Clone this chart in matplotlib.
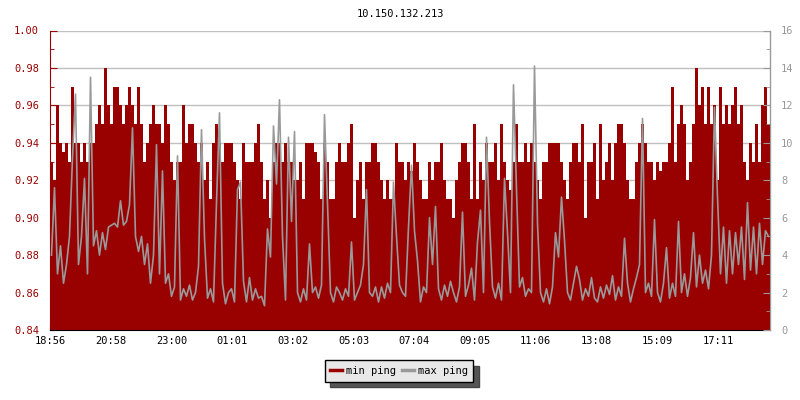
import numpy as np
import matplotlib
matplotlib.use("Agg")
import matplotlib.pyplot as plt
from matplotlib.lines import Line2D

title = "10.150.132.213"
tick_labels = ["18:56", "20:58", "23:00", "01:01", "03:02", "05:03",
               "07:04", "09:05", "11:06", "13:08", "15:09", "17:11"]
step_minutes = 6  # one sample every 6 minutes, 24 h shown

min_ping = [
    # 18:56 - 22:56
    0.93, 0.92, 0.96, 0.94, 0.935, 0.94, 0.93, 0.97, 0.94, 0.94,
    0.93, 0.94, 0.93, 0.94, 0.94, 0.95, 0.96, 0.95, 0.98, 0.96,
    0.95, 0.97, 0.97, 0.96, 0.95, 0.96, 0.97, 0.96, 0.95, 0.97,
    0.95, 0.93, 0.94, 0.95, 0.96, 0.95, 0.95, 0.94, 0.96, 0.95,
    # 22:56 - 02:56
    0.93, 0.92, 0.93, 0.93, 0.96, 0.94, 0.95, 0.95, 0.94, 0.93,
    0.94, 0.92, 0.93, 0.91, 0.94, 0.95, 0.94, 0.93, 0.94, 0.94,
    0.94, 0.93, 0.92, 0.91, 0.94, 0.93, 0.93, 0.93, 0.94, 0.95,
    0.93, 0.91, 0.92, 0.90, 0.93, 0.94, 0.94, 0.93, 0.94, 0.93,
    # 02:56 - 06:56
    0.93, 0.92, 0.92, 0.93, 0.91, 0.94, 0.94, 0.94, 0.935, 0.93,
    0.91, 0.94, 0.93, 0.91, 0.91, 0.93, 0.94, 0.93, 0.93, 0.94,
    0.95, 0.90, 0.92, 0.93, 0.91, 0.93, 0.93, 0.94, 0.94, 0.93,
    0.92, 0.91, 0.92, 0.91, 0.91, 0.94, 0.93, 0.93, 0.92, 0.93,
    # 06:56 - 10:56
    0.925, 0.94, 0.93, 0.92, 0.91, 0.91, 0.93, 0.92, 0.93, 0.93,
    0.94, 0.92, 0.91, 0.91, 0.90, 0.92, 0.93, 0.94, 0.94, 0.93,
    0.91, 0.95, 0.91, 0.93, 0.92, 0.94, 0.93, 0.93, 0.94, 0.92,
    0.95, 0.93, 0.92, 0.915, 0.93, 0.95, 0.93, 0.93, 0.94, 0.93,
    # 10:56 - 14:56
    0.94, 0.93, 0.92, 0.91, 0.93, 0.93, 0.94, 0.94, 0.94, 0.94,
    0.93, 0.92, 0.91, 0.93, 0.94, 0.94, 0.93, 0.95, 0.90, 0.93,
    0.93, 0.94, 0.91, 0.95, 0.92, 0.93, 0.94, 0.92, 0.94, 0.95,
    0.95, 0.94, 0.92, 0.91, 0.91, 0.93, 0.94, 0.95, 0.94, 0.93,
    # 14:56 - 18:56
    0.93, 0.92, 0.93, 0.925, 0.93, 0.93, 0.94, 0.97, 0.93, 0.95,
    0.96, 0.95, 0.92, 0.93, 0.95, 0.98, 0.96, 0.97, 0.95, 0.97,
    0.95, 0.96, 0.92, 0.97, 0.95, 0.96, 0.95, 0.96, 0.97, 0.95,
    0.96, 0.93, 0.92, 0.94, 0.93, 0.95, 0.93, 0.96, 0.97, 0.95,
]

max_ping = [
    4.0, 7.6, 3.0, 4.5, 2.5, 3.5, 5.0, 9.2, 12.6, 3.5,
    5.0, 8.1, 3.0, 13.5, 4.5, 5.3, 4.0, 5.2, 4.3, 5.5,
    5.6, 5.7, 5.5, 6.9, 5.6, 5.8, 6.7, 10.8, 5.0, 4.2,
    5.0, 3.5, 4.6, 2.5, 4.0, 9.9, 3.0, 8.5, 2.5, 3.0,
    1.8, 2.3, 9.3, 1.6, 2.2, 1.8, 2.4, 1.6, 2.0, 3.4,
    10.7, 4.9, 1.7, 2.2, 1.5, 6.8, 11.6, 2.5, 1.4, 2.0,
    2.2, 1.5, 7.5, 7.9, 2.6, 1.5, 2.8, 1.6, 2.2, 1.7,
    1.8, 1.3, 5.4, 3.9, 10.9, 7.8, 12.3, 5.0, 1.6, 10.3,
    5.8, 10.6, 2.0, 1.5, 2.2, 1.6, 4.6, 2.0, 2.3, 1.7,
    2.4, 11.5, 6.7, 2.0, 1.5, 2.3, 2.0, 1.6, 2.2, 1.8,
    4.7, 1.6, 2.0, 2.4, 3.5, 7.5, 2.0, 1.8, 2.3, 1.5,
    2.3, 1.7, 2.5, 2.0, 7.9, 5.0, 2.4, 2.0, 1.8, 5.5,
    8.8, 5.3, 3.7, 1.5, 2.3, 2.0, 6.0, 3.5, 6.6, 2.2,
    1.6, 2.4, 1.8, 2.6, 2.0, 1.5, 2.3, 6.3, 1.8, 2.4,
    3.3, 1.6, 4.7, 6.4, 2.0, 10.3, 5.8, 2.3, 1.7, 2.5,
    1.6, 8.1, 5.2, 2.0, 13.1, 7.5, 2.3, 2.8, 1.8, 2.2,
    2.0, 14.1, 5.7, 2.0, 1.5, 2.2, 1.4, 2.3, 5.2, 3.9,
    7.1, 4.8, 2.0, 1.6, 2.5, 3.4, 2.7, 1.6, 2.2, 1.8,
    2.8, 1.7, 1.5, 2.3, 1.7, 2.4, 1.9, 2.9, 1.6, 2.3,
    1.8, 4.9, 2.5, 1.5, 2.2, 2.8, 3.5, 11.3, 2.0, 2.5,
    1.8, 5.9, 2.0, 1.5, 2.5, 4.4, 1.7, 2.5, 1.8, 5.8,
    2.0, 3.0, 1.8, 2.8, 5.2, 2.3, 4.0, 2.5, 3.2, 2.2,
    4.0, 11.9, 7.1, 3.0, 5.5, 2.5, 5.3, 3.0, 5.2, 3.5,
    5.5, 2.7, 6.8, 3.2, 5.5, 3.0, 5.7, 3.5, 5.3, 5.0,
]

RED = "#990000"
GREY = "#999999"
GRID = "#c0c0c0"
FONT = "DejaVu Sans Mono"

n = len(min_ping)
x = np.arange(n + 1) * step_minutes
total = n * step_minutes
mp = np.array(min_ping + [min_ping[-1]])
xp = np.array(max_ping)
xm = (np.arange(n) + 0.5) * step_minutes

fig = plt.figure(figsize=(8, 4), dpi=100)
ax = fig.add_axes([0.0625, 0.175, 0.9, 0.74875])
ax2 = ax.twinx()

ax.set_xlim(0, total)
ax.set_ylim(0.84, 1.00)
ax2.set_ylim(0, 16)

ax.set_axisbelow(True)
ax.yaxis.grid(True, color=GRID, lw=1)
ax.fill_between(x, 0.84, mp, step="post", color=RED, lw=0, zorder=2)
ax2.plot(xm, xp, color=GREY, lw=1.2)

ax.set_yticks(np.arange(0.84, 1.0001, 0.02))
ax.set_yticks(np.arange(0.85, 1.0, 0.02), minor=True)
ax.set_yticklabels([f"{v:.2f}" for v in np.arange(0.84, 1.0001, 0.02)])
ax2.set_yticks(np.arange(0, 17, 2))
ax2.set_yticks(np.arange(1, 16, 2), minor=True)

tick_pos = np.arange(len(tick_labels)) * (total * 668 / 720 / 11)
ax.set_xticks(tick_pos)
ax.set_xticklabels(tick_labels)

for s in ["top"]:
    ax.spines[s].set_visible(False)
    ax2.spines[s].set_visible(False)
ax.spines["left"].set_color(RED)
ax.spines["bottom"].set_color("black")
ax2.spines["right"].set_color(GREY)
ax2.spines["left"].set_visible(False)
ax2.spines["bottom"].set_visible(False)

ax.tick_params(axis="y", which="major", direction="in", length=5, color=RED,
               labelcolor=RED, labelsize=7.5, pad=8)
ax.tick_params(axis="y", which="minor", direction="in", length=3, color=RED)
ax.tick_params(axis="x", direction="in", length=5, color="black",
               labelsize=7.5, pad=4)
ax2.tick_params(axis="y", which="major", direction="in", length=5, color=GREY,
                labelcolor=GREY, labelsize=7.5, pad=8)
ax2.tick_params(axis="y", which="minor", direction="in", length=3, color=GREY)
for lab in ax.get_xticklabels() + ax.get_yticklabels() + ax2.get_yticklabels():
    lab.set_fontfamily(FONT)

fig.text(0.5, 0.965, title, ha="center", va="center", fontsize=7.5,
         family=FONT, color="black")

handles = [Line2D([], [], color=RED, lw=2.5), Line2D([], [], color=GREY, lw=2.5)]
leg = fig.legend(handles, ["min ping", "max ping"], loc="center",
                 bbox_to_anchor=(0.49875, 0.0725), ncol=2, frameon=True,
                 fancybox=False, edgecolor="black", facecolor="#e8e8e8",
                 framealpha=1, handlelength=1.1, handletextpad=0.4,
                 columnspacing=0.6, borderpad=0.55, borderaxespad=0,
                 prop={"family": FONT, "size": 7.5},
                 shadow={"ox": 4, "oy": -4, "facecolor": "#555555", "alpha": 1})
leg.get_frame().set_linewidth(1.0)

fig.savefig("out.png", dpi=100)
